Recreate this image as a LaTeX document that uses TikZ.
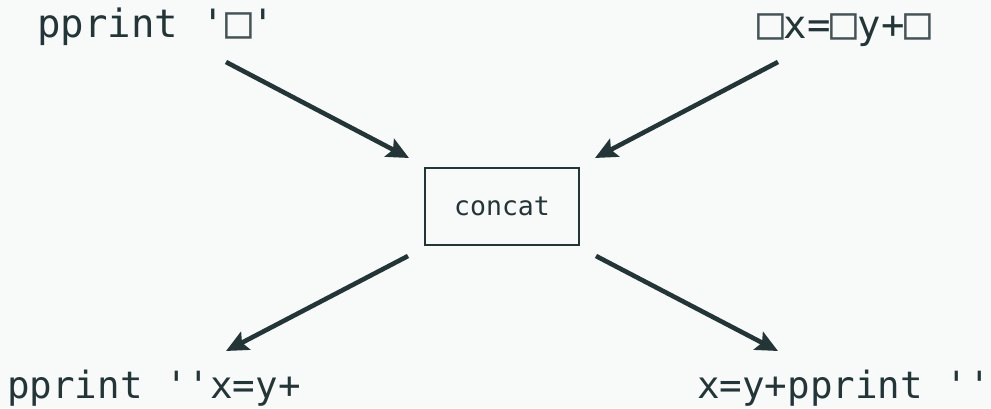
\documentclass[tikz,border=0pt]{standalone}
\usepackage{fontspec}
\setmonofont{DejaVu Sans Mono}
\usetikzlibrary{arrows.meta}
\definecolor{ink}{HTML}{243538}
\definecolor{paper}{HTML}{F8F9F9}
% hole marker, a little wider than one mono cell
\newcommand{\hole}{\scalebox{1.14}{\textcolor{ink!85}{□}}}
\begin{document}
\begin{tikzpicture}[x=1pt,y=-1pt,
  lbl/.style={inner sep=0pt,text=ink,font=\ttfamily\fontsize{37.5}{40}\selectfont},
  toplbl/.style={lbl,font=\ttfamily\fontsize{39}{42}\selectfont},
  opbox/.style={draw=ink,line width=2pt,minimum width=154pt,minimum height=77pt,inner sep=0pt,text=ink,font=\ttfamily\fontsize{26.5}{28}\selectfont},
  arr/.style={draw=ink,line width=4.6pt,-{Stealth[length=22pt,width=20pt,inset=4pt]}}]
  \fill[paper] (0,0) rectangle (991,408);
  \useasboundingbox (0,0) rectangle (991,408);
  % operands and results
  \node[toplbl,anchor=base west] (tl) at (37,37) {pprint '\hole'};
  \node[toplbl,anchor=base west] (tr) at (757,38) {\hole x=\hole y+\hole};
  \node[lbl,anchor=base west] (bl) at (7,398) {pprint ''x=y+};
  \node[lbl,anchor=base west] (br) at (697,398) {x=y+pprint ''};
  % operation
  \node[opbox] (op) at (502,206.5) {concat};
  % connector ends
  \coordinate (s1) at (226,62);  \coordinate (e1) at (409,158);
  \coordinate (s2) at (778,62);  \coordinate (e2) at (595,158);
  \coordinate (s3) at (408,256); \coordinate (e3) at (226,351);
  \coordinate (s4) at (596,256); \coordinate (e4) at (778,351);
  \draw[arr] (s1) -- (e1);
  \draw[arr] (s2) -- (e2);
  \draw[arr] (s3) -- (e3);
  \draw[arr] (s4) -- (e4);
\end{tikzpicture}
\end{document}
